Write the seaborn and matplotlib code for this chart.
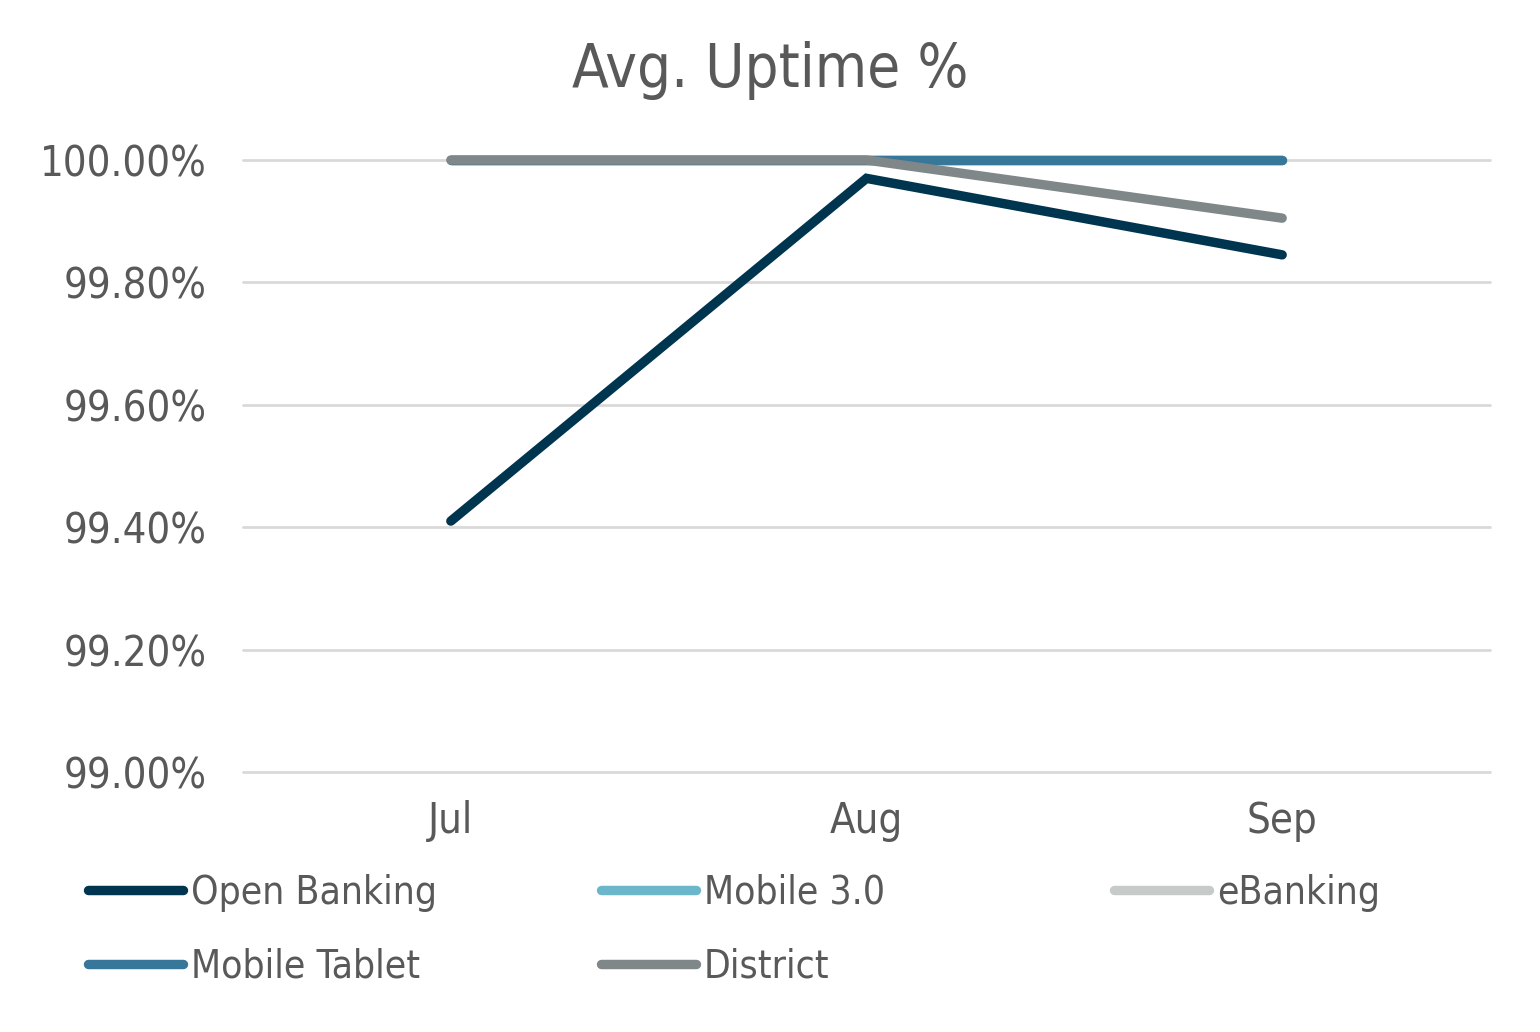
import matplotlib
matplotlib.use("Agg")
import matplotlib.pyplot as plt
from matplotlib.lines import Line2D
import seaborn as sns
import pandas as pd
from matplotlib.ticker import FuncFormatter

months = ["Jul", "Aug", "Sep"]
open_banking = [99.41, 99.97, 99.845]
mobile_30 = [100.0, 100.0, 100.0]
ebanking = [100.0, 100.0, 100.0]
mobile_tablet = [100.0, 100.0, 100.0]
district = [100.0, 100.0, 99.905]

series_names = ["Open Banking", "Mobile 3.0", "eBanking", "Mobile Tablet", "District"]
series_values = [open_banking, mobile_30, ebanking, mobile_tablet, district]
colors = ["#003550", "#6CB6CC", "#C6CAC9", "#37779A", "#7F8789"]

rows = []
for name, vals in zip(series_names, series_values):
    for m, v in zip(months, vals):
        rows.append({"Month": m, "Series": name, "Uptime": v})
df = pd.DataFrame(rows)

sns.set_theme(style="white")
plt.rcParams["font.family"] = ["DejaVu Sans"]
plt.rcParams["font.stretch"] = "condensed"

text_color = "#595959"
LW = 6.8
fig = plt.figure(figsize=(15.4, 10.32), dpi=100)
ax = fig.add_axes([243/1540, 1 - 772/1032, (1490-243)/1540, (772-160)/1032])

df["x"] = df["Month"].map({m: i for i, m in enumerate(months)})
sns.lineplot(data=df, x="x", y="Uptime", hue="Series", hue_order=series_names,
             palette=colors, linewidth=LW, ax=ax, legend=False, sort=False)
for line in ax.get_lines():
    line.set_solid_capstyle("round")
    line.set_solid_joinstyle("miter")
    line.set_clip_on(False)

ax.set_xlim(-0.5, 2.5)
ax.set_ylim(99.0, 100.0)
ax.set_yticks([99.0, 99.2, 99.4, 99.6, 99.8, 100.0])
ax.yaxis.set_major_formatter(FuncFormatter(lambda v, p: f"{v:.2f}%"))
ax.set_xticks(range(len(months)))
ax.set_xticklabels(months)
ax.grid(axis="y", color="#D9D9D9", linewidth=2)
for g in ax.yaxis.get_gridlines():
    g.set_clip_on(False)
ax.set_axisbelow(True)
for s in ax.spines.values():
    s.set_visible(False)
ax.tick_params(axis="both", length=0, labelsize=30, colors=text_color)
ax.tick_params(axis="x", pad=20)
ax.tick_params(axis="y", pad=26)
ax.set_xlabel("")
ax.set_ylabel("")

fig.text(770/1540, 1 - 70/1032, "Avg. Uptime %", ha="center", va="center",
         fontsize=43, color=text_color)

leg_pos = [(88, 893), (601, 893), (1114, 893), (88, 967), (601, 967)]
for name, c, (px, py) in zip(series_names, colors, leg_pos):
    h = Line2D([0], [0], color=c, linewidth=LW, solid_capstyle="round")
    fig.legend([h], [name], loc="center left",
               bbox_to_anchor=(px/1540, 1 - py/1032),
               frameon=False, fontsize=28, handlelength=2.45, handletextpad=0.2,
               borderpad=0, borderaxespad=0, labelcolor=text_color)

fig.savefig("out.png", dpi=100, facecolor="white")
